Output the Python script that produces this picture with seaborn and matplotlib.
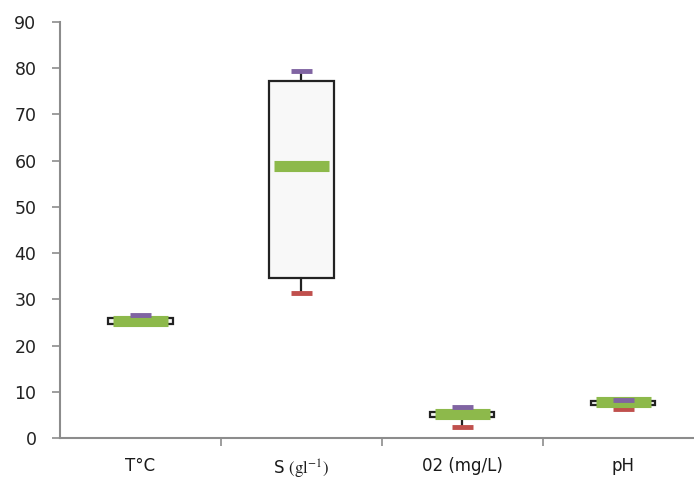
import numpy as np
import seaborn as sns
import matplotlib
matplotlib.use("Agg")
import matplotlib.pyplot as plt

# values
cats = ["T°C", r"S $\mathrm{(gl^{-1})}$", "02 (mg/L)", "pH"]
q1 = [24.7, 34.6, 4.5, 7.1]
q3 = [26.0, 77.3, 5.6, 8.0]
med = [25.4, 58.9, 5.2, 7.7]
vmin = [24.6, 31.4, 2.4, 6.2]
vmax = [26.6, 79.4, 6.7, 8.3]
yticks = [0, 10, 20, 30, 40, 50, 60, 70, 80, 90]

sns.set_style("white")
plt.rcParams["font.family"] = ["DejaVu Sans"]
plt.rcParams["mathtext.fontset"] = "stix"

fig = plt.figure(figsize=(6.94, 4.82), dpi=100)
ax = fig.add_axes([0.0865, 0.0913, 0.9135, 0.863])

pos = np.arange(len(cats))
stats = [dict(med=m, q1=a, q3=b, whislo=lo, whishi=hi, fliers=[])
         for m, a, b, lo, hi in zip(med, q1, q3, vmin, vmax)]
ax.bxp(stats, positions=pos, widths=0.40, showcaps=False, patch_artist=True,
       boxprops=dict(facecolor="#f8f8f8", edgecolor="#222222", linewidth=1.6),
       whiskerprops=dict(color="#222222", linewidth=1.6),
       medianprops=dict(visible=False), manage_ticks=False)

# min marker under the median bar, max marker on top
ax.hlines(vmin, pos - 0.065, pos + 0.065, color="#c0504d", linewidth=3.5, zorder=3.5)
ax.hlines(med, pos - 0.17, pos + 0.17, color="#8db94b", linewidth=8, zorder=4)
ax.hlines(vmax, pos - 0.065, pos + 0.065, color="#8064a2", linewidth=3.5, zorder=5)

ax.set_xlim(-0.5, 3.44)
ax.set_ylim(0, 90)
ax.set_yticks(yticks)
ax.set_xticks(pos)
ax.set_xticklabels(cats)
ax.set_xticks(pos[:-1] + 0.5, minor=True)

sns.despine(ax=ax, top=True, right=True)
for s in ["left", "bottom"]:
    ax.spines[s].set_color("#8c8c8c")
    ax.spines[s].set_linewidth(1.5)

ax.tick_params(axis="y", which="major", direction="out", length=6, width=1.2,
               color="#8c8c8c", pad=11, labelsize=12.5, labelcolor="#222222", left=True)
ax.tick_params(axis="x", which="major", length=0, pad=14, labelsize=12,
               labelcolor="#1a1a1a")
ax.tick_params(axis="x", which="minor", direction="out", length=6, width=1.2,
               color="#8c8c8c", bottom=True)

fig.savefig("out.png", dpi=100)
